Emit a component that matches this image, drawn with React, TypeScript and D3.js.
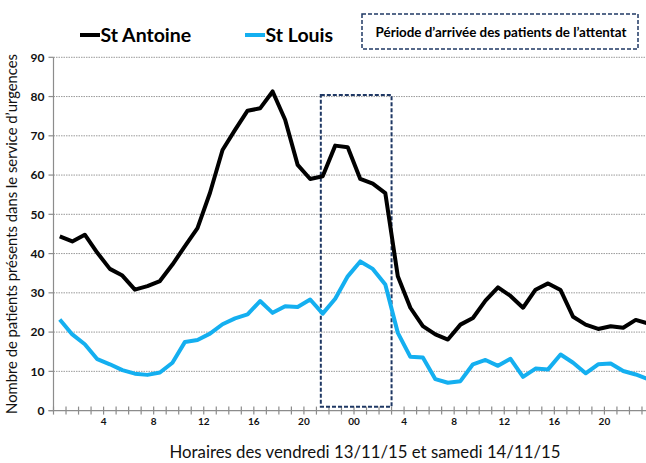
import React from "react";
import * as d3 from "d3";

// hourly census, Friday 13/11/15 00h -> Saturday 14/11/15 23h
const stAntoine = [
  44.4, 43.1, 44.8, 40.2, 36.1, 34.4, 30.8, 31.7, 33.0, 37.2, 41.9, 46.5,
  55.5, 66.4, 71.5, 76.4, 77.0, 81.3, 74.1, 62.6, 59.0, 59.7, 67.5, 67.1,
  59.0, 57.8, 55.4, 34.2, 26.2, 21.5, 19.4, 18.1, 21.9, 23.6, 28.0, 31.4,
  29.2, 26.2, 30.8, 32.4, 30.7, 23.9, 21.9, 20.8, 21.5, 21.1, 23.1, 22.2,
];
const stLouis = [
  23.2, 19.4, 16.9, 13.1, 11.8, 10.3, 9.4, 9.1, 9.7, 12.2, 17.5, 18.0,
  19.6, 22.0, 23.5, 24.5, 27.9, 24.9, 26.6, 26.4, 28.3, 24.7, 28.5, 34.2,
  38.0, 36.1, 32.1, 19.8, 13.7, 13.5, 8.0, 7.1, 7.5, 11.8, 12.9, 11.4,
  13.2, 8.6, 10.7, 10.5, 14.3, 12.2, 9.5, 11.8, 12.0, 10.1, 9.2, 8.0,
];
const tickHours = [4, 8, 12, 16, 20, 24, 28, 32, 36, 40, 44];
const tickLabels = ["4", "8", "12", "16", "20", "00", "4", "8", "12", "16", "20"];
const yTicks = [0, 10, 20, 30, 40, 50, 60, 70, 80, 90];
// attack arrival window (hours from start, patient counts)
const period = { from: 21.35, to: 27.0, low: 1, high: 80.4 };

const W = 646;
const H = 463;
const FONT = "Lato, 'Open Sans', sans-serif";

export default function App() {
  const x = d3.scaleLinear().domain([0, 48]).range([53.5, 654.5]);
  const y = d3.scaleLinear().domain([0, 90]).range([410.6, 57.3]);
  const left = x(0);
  const bottom = y(0);

  const line = d3
    .line<number>()
    .x((_, i) => x(i + 0.5))
    .y((d) => y(d));

  const hourTicks = d3.range(0, 49);

  return (
    <svg
      width={W}
      height={H}
      style={{ position: "absolute", left: 0, top: 0, background: "#fff" }}
      fontFamily={FONT}
    >
      {/* grid */}
      {yTicks.slice(1).map((t) => (
        <line
          key={"g" + t}
          x1={left}
          x2={W}
          y1={y(t)}
          y2={y(t)}
          stroke="#9a9a9a"
          strokeWidth={1}
          strokeDasharray="1.5,1"
        />
      ))}
      {/* y axis */}
      <line x1={left} x2={left} y1={y(90)} y2={bottom} stroke="#8c8c8c" strokeWidth={1.2} />
      {yTicks.map((t) => (
        <g key={"yt" + t}>
          <line x1={left - 5} x2={left} y1={y(t)} y2={y(t)} stroke="#8c8c8c" strokeWidth={1.2} />
          <text
            x={left - 9}
            y={y(t)}
            dy="0.35em"
            textAnchor="end"
            fontSize={12}
            fontWeight="bold"
            fill="#111"
          >
            {t}
          </text>
        </g>
      ))}
      {/* x axis */}
      <line x1={left - 5} x2={W} y1={bottom} y2={bottom} stroke="#8c8c8c" strokeWidth={1.2} />
      {hourTicks.map((h) => (
        <line
          key={"xt" + h}
          x1={x(h)}
          x2={x(h)}
          y1={bottom - 4}
          y2={bottom + 4}
          stroke="#8c8c8c"
          strokeWidth={1.2}
        />
      ))}
      {tickHours.map((h, i) => (
        <text
          key={"xl" + h}
          x={x(h)}
          y={425}
          textAnchor="middle"
          fontSize={10}
          fontWeight="bold"
          fill="#111"
        >
          {tickLabels[i]}
        </text>
      ))}

      {/* attack arrival window */}
      <rect
        x={x(period.from)}
        y={y(period.high)}
        width={x(period.to) - x(period.from)}
        height={y(period.low) - y(period.high)}
        fill="none"
        stroke="#1f3864"
        strokeWidth={2}
        strokeDasharray="4,2"
      />

      {/* series */}
      <path d={line(stLouis) ?? ""} fill="none" stroke="#14aff0" strokeWidth={4} strokeLinejoin="round" />
      <path d={line(stAntoine) ?? ""} fill="none" stroke="#000" strokeWidth={4} strokeLinejoin="round" />

      {/* axis titles */}
      <text x={365} y={458} textAnchor="middle" fontSize={16.8} fill="#111">
        Horaires des vendredi 13/11/15 et samedi 14/11/15
      </text>
      <text
        transform={`translate(17,${(y(90) + bottom) / 2}) rotate(-90)`}
        textAnchor="middle"
        fontSize={14.8}
        fill="#111"
      >
        Nombre de patients présents dans le service d’urgences
      </text>

      {/* legend */}
      <line x1={80} x2={100} y1={35} y2={35} stroke="#000" strokeWidth={4} />
      <text x={100.5} y={42} fontSize={19.5} fontWeight="bold" fill="#000">
        St Antoine
      </text>
      <line x1={245} x2={265} y1={35} y2={35} stroke="#14aff0" strokeWidth={4} />
      <text x={265.5} y={42} fontSize={19.5} fontWeight="bold" fill="#000">
        St Louis
      </text>

      {/* period box */}
      <rect x={362} y={14} width={276} height={35} fill="#fff" stroke="#1f3864" strokeWidth={1.5} strokeDasharray="4,2" />
      <text x={501} y={36.5} textAnchor="middle" fontSize={13.4} fontWeight="bold" fill="#000">
        Période d’arrivée des patients de l’attentat
      </text>
    </svg>
  );
}
